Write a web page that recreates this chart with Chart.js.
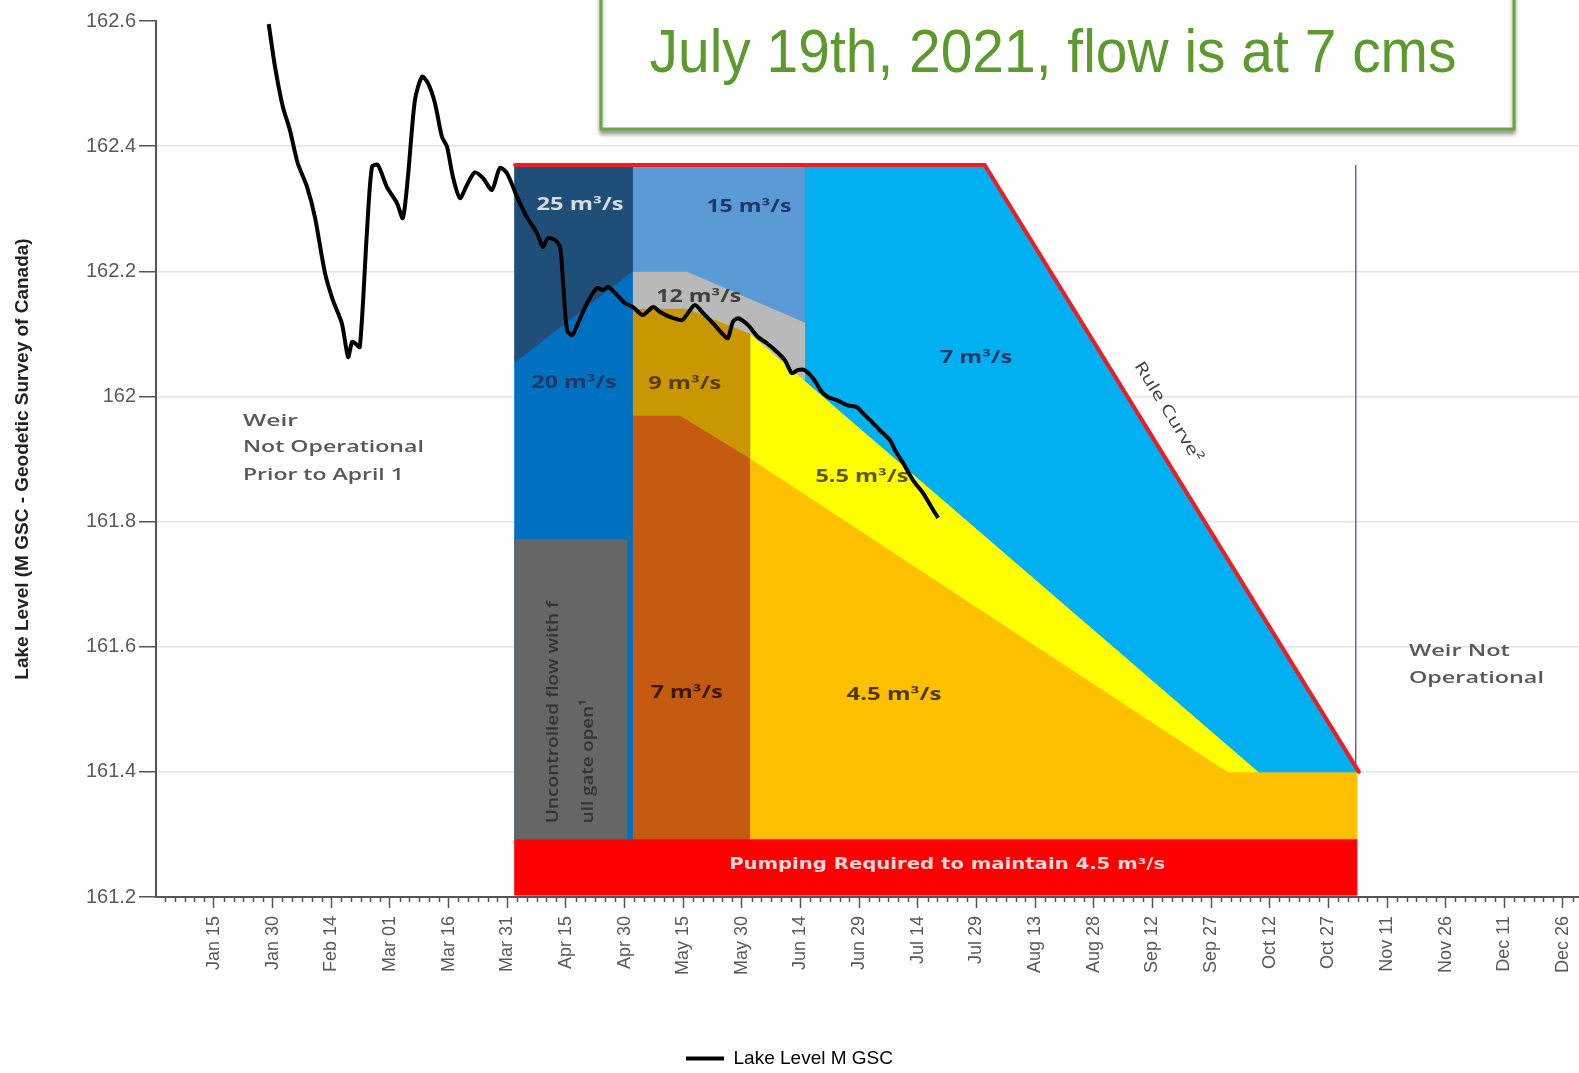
<!DOCTYPE html>
<html>
<head>
<meta charset="utf-8">
<script src="https://cdn.jsdelivr.net/npm/chart.js@4.4.1/dist/chart.umd.min.js"></script>
<style>
html,body{margin:0;padding:0;background:#fff;}
#wrap{width:1579px;height:1073px;position:relative;}
canvas{display:block;}
</style>
</head>
<body>
<div id="wrap"><canvas id="c" width="1579" height="1073"></canvas></div>
<script>
// x values are day numbers of 2021 (Jan 1 = 0)
const xTickDays = [14,29,44,59,74,89,104,119,134,149,164,179,194,209,224,239,254,269,284,299,314,329,344,359];
const xTickLabels = ['Jan 15','Jan 30','Feb 14','Mar 01','Mar 16','Mar 31','Apr 15','Apr 30','May 15','May 30','Jun 14','Jun 29','Jul 14','Jul 29','Aug 13','Aug 28','Sep 12','Sep 27','Oct 12','Oct 27','Nov 11','Nov 26','Dec 11','Dec 26'];
const yTickValues = [161.2,161.4,161.6,161.8,162,162.2,162.4,162.6];
const yTickLabels = ['161.2','161.4','161.6','161.8','162','162.2','162.4','162.6'];

// Lake level series (M GSC)
const lakeDays = [28,29.6,31.6,33.4,35.4,37.8,39.8,42.4,44.4,46.7,48.3,49.3,50.1,51.3,53.1,54.4,55.9,58.2,60.8,62.3,63.6,65.4,67.2,68.7,70.5,72.3,73.6,75.1,76.9,78.7,80.7,82.8,85.1,87.1,88.9,91.5,94.0,96.6,98.1,99.4,101.2,102.5,103.3,104.3,105.6,107.1,109.4,111.9,113.5,114.8,117.1,119.1,121.1,123.7,126.3,128.1,130.6,133.7,135.2,137.0,139.1,141.6,143.9,145.4,146.7,148.0,150.6,153.1,155.4,158.0,160.0,161.8,163.3,165.1,167.2,169.5,171.0,173.3,175.9,178.4,179.7,181.8,184.3,186.9,188.2,190.2,192.8,195.3,197.9,199.2];
const lakeLevels = [162.595,162.527,162.463,162.426,162.373,162.335,162.287,162.197,162.154,162.117,162.063,162.087,162.085,162.079,162.261,162.367,162.370,162.335,162.309,162.285,162.351,162.474,162.511,162.501,162.469,162.415,162.399,162.351,162.317,162.338,162.358,162.349,162.330,162.365,162.357,162.319,162.287,162.261,162.239,162.253,162.250,162.239,162.181,162.106,162.098,162.117,162.149,162.173,162.170,162.175,162.162,162.149,162.143,162.130,162.143,162.135,162.127,162.122,162.133,162.146,162.133,162.117,162.101,162.093,162.119,162.125,162.114,162.095,162.085,162.071,162.058,162.037,162.042,162.042,162.029,162.007,161.999,161.994,161.986,161.983,161.975,161.962,161.946,161.930,161.914,161.894,161.866,161.846,161.819,161.806];

// Operating zones (polygon outlines: day, level)
const pumpDays = [91,306.3,306.3,91,91];
const pumpLevels = [161.203,161.203,161.293,161.293,161.203];
const uncontrolledDays = [91,119.6,119.6,91,91];
const uncontrolledLevels = [161.293,161.293,161.771,161.771,161.293];
const flow20Days = [91,121,121,91,91];
const flow20Levels = [161.293,161.293,162.2,162.055,161.293];
const flow25Days = [91,121,121,91,91];
const flow25Levels = [162.055,162.2,162.37,162.37,162.055];
const flow15Days = [121,135,165,165,121,121];
const flow15Levels = [162.2,162.2,162.119,162.37,162.37,162.2];
const flow12Days = [121,135,165,165,151,135,121,121];
const flow12Levels = [162.2,162.2,162.119,162.026,162.101,162.141,162.141,162.2];
const flow9Days = [121,135,151,151,133.2,121,121];
const flow9Levels = [162.141,162.141,162.101,161.902,161.97,161.97,162.141];
const flow7oDays = [121,151,151,133.2,121,121];
const flow7oLevels = [161.293,161.293,161.902,161.97,161.97,161.293];
const flow45Days = [151,306.3,306.3,273.3,151,151];
const flow45Levels = [161.293,161.293,161.4,161.4,161.902,161.293];
const flow55Days = [151,273.3,281.2,151,151];
const flow55Levels = [161.902,161.4,161.4,162.101,161.902];
const flow7bDays = [165,211.1,306.8,281.2,165,165];
const flow7bLevels = [162.37,162.37,161.4,161.4,162.026,162.37];
const ruleCurveDays = [91,211.1,306.8];
const ruleCurveLevels = [162.37,162.37,161.4];
const weirEndDays = [306,306];
const weirEndLevels = [162.37,161.4];

function pts(days, levels){ return days.map((d,i)=>({x:d,y:levels[i]})); }

const zones = [
  {name:'pumping', days:pumpDays, levels:pumpLevels, color:'#ff0000', order:15},
  {name:'4.5', days:flow45Days, levels:flow45Levels, color:'#ffc000', order:14},
  {name:'5.5', days:flow55Days, levels:flow55Levels, color:'#ffff00', order:13},
  {name:'7b', days:flow7bDays, levels:flow7bLevels, color:'#00b0f0', order:12},
  {name:'7o', days:flow7oDays, levels:flow7oLevels, color:'#c55a11', order:11},
  {name:'9', days:flow9Days, levels:flow9Levels, color:'#c99800', order:10},
  {name:'12', days:flow12Days, levels:flow12Levels, color:'#b9b9b9', order:9},
  {name:'15', days:flow15Days, levels:flow15Levels, color:'#5b9bd5', order:8},
  {name:'20', days:flow20Days, levels:flow20Levels, color:'#0070c0', order:7},
  {name:'25', days:flow25Days, levels:flow25Levels, color:'#1f4e79', order:6},
  {name:'uncontrolled', days:uncontrolledDays, levels:uncontrolledLevels, color:'#666666', order:5}
];

const datasets = [
  {label:'Lake Level M GSC', data:pts(lakeDays, lakeLevels), borderColor:'#000', backgroundColor:'#000', borderWidth:4, tension:0.25, pointRadius:0, fill:false, order:0},
  {label:'Rule Curve', data:pts(ruleCurveDays, ruleCurveLevels), borderColor:'#ee1c24', borderWidth:4, pointRadius:0, fill:false, tension:0, order:1, borderCapStyle:'round', borderJoinStyle:'miter'},
  ...zones.map(z=>({label:z.name, data:pts(z.days, z.levels), borderColor:z.color, backgroundColor:z.color, borderWidth:1, fill:'shape', pointRadius:0, tension:0, order:z.order})),
  {label:'Weir end', data:pts(weirEndDays, weirEndLevels), borderColor:'#5a6a9c', borderWidth:1.5, pointRadius:0, fill:false, tension:0, order:30}
];

// Text annotations (anchored to data coordinates)
const zoneFont = "bold 17px 'Open Sans'";
const zoneTexts = [
  {text:'25 m\u00b3/s', day:107.6, level:162.306, color:'#dcdcdc', w:87},
  {text:'15 m\u00b3/s', day:150.8, level:162.302, color:'#1f3864', w:85},
  {text:'12 m\u00b3/s', day:138.0, level:162.159, color:'#404040', w:85},
  {text:'20 m\u00b3/s', day:106.1, level:162.022, color:'#1f3864', w:85},
  {text:'9 m\u00b3/s', day:134.4, level:162.020, color:'#5a3c00', w:73},
  {text:'7 m\u00b3/s', day:208.9, level:162.061, color:'#1f3864', w:72},
  {text:'5.5 m\u00b3/s', day:179.7, level:161.871, color:'#5c5800', w:93},
  {text:'7 m\u00b3/s', day:134.9, level:161.526, color:'#3a1800', w:72},
  {text:'4.5 m\u00b3/s', day:187.9, level:161.523, color:'#4d3800', w:95}
];
const weirFont = "600 17px 'Open Sans'";
const plainTexts = [
  {text:'Pumping Required to maintain 4.5 m\u00b3/s', day:201.5, level:161.251, color:'#ffd9d9', w:436, font:"bold 16px 'DejaVu Sans'", align:'center'},
  {text:'Weir', day:21.4, level:161.961, color:'#595959', w:55, font:weirFont, align:'left'},
  {text:'Not Operational', day:21.4, level:161.919, color:'#595959', w:181, font:weirFont, align:'left'},
  {text:'Prior to April 1', day:21.4, level:161.874, color:'#595959', w:161, font:weirFont, align:'left'},
  {text:'Weir Not', day:319.6, level:161.593, color:'#595959', w:101, font:weirFont, align:'left'},
  {text:'Operational', day:319.6, level:161.550, color:'#595959', w:135, font:weirFont, align:'left'}
];
const verticalTexts = [
  {text:'Uncontrolled flow with f', day:100.7, level:161.318, color:'#333333', w:222},
  {text:'ull gate open\u00b9', day:109.6, level:161.318, color:'#333333', w:124}
];
const ruleText = {text:'Rule Curve\u00b2', day:258.0, level:161.975, color:'#404040', w:115};

function drawText(ctx, text, x, y, o){
  ctx.save();
  ctx.translate(x, y);
  if (o.rotate) ctx.rotate(o.rotate);
  ctx.font = o.font;
  ctx.fillStyle = o.color;
  ctx.textAlign = o.align || 'center';
  ctx.textBaseline = 'middle';
  if (o.w) { const m = ctx.measureText(text).width; ctx.scale(o.w / m, 1); }
  ctx.fillText(text, 0, 0);
  ctx.restore();
}

const annotationPlugin = {
  id:'zoneText',
  beforeDatasetDraw(chart, args){
    if (args.index !== 0) return;
    const {ctx, scales:{x, y}} = chart;
    zoneTexts.forEach(t => drawText(ctx, t.text, x.getPixelForValue(t.day), y.getPixelForValue(t.level), {font:zoneFont, color:t.color, w:t.w}));
    plainTexts.forEach(t => drawText(ctx, t.text, x.getPixelForValue(t.day), y.getPixelForValue(t.level), t));
    verticalTexts.forEach(t => drawText(ctx, t.text, x.getPixelForValue(t.day), y.getPixelForValue(t.level), {font:"600 17px 'Open Sans'", color:t.color, w:t.w, align:'left', rotate:-Math.PI/2}));
    const x1 = x.getPixelForValue(ruleCurveDays[1]), y1 = y.getPixelForValue(ruleCurveLevels[1]);
    const x2 = x.getPixelForValue(ruleCurveDays[2]), y2 = y.getPixelForValue(ruleCurveLevels[2]);
    const ang = Math.atan2(y2 - y1, x2 - x1);
    drawText(ctx, ruleText.text, x.getPixelForValue(ruleText.day), y.getPixelForValue(ruleText.level), {font:"16px 'Open Sans'", color:ruleText.color, w:ruleText.w, rotate:ang});
  },
  afterDraw(chart){
    const {ctx, scales:{x}, chartArea} = chart;
    // minor ticks on x axis
    ctx.save();
    ctx.strokeStyle = '#555';
    ctx.lineWidth = 1.5;
    for (let d = 1.5; d < x.max; d += 2.5) {
      if (xTickDays.includes(d)) continue;
      const px = Math.round(x.getPixelForValue(d)) + 0.5;
      ctx.beginPath();
      ctx.moveTo(px, chartArea.bottom);
      ctx.lineTo(px, chartArea.bottom + 5);
      ctx.stroke();
    }
    ctx.restore();
    // headline box
    ctx.save();
    ctx.shadowColor = 'rgba(0,0,0,0.35)';
    ctx.shadowOffsetY = 4;
    ctx.shadowBlur = 4;
    ctx.fillStyle = '#ffffff';
    ctx.fillRect(601, -10, 913, 139);
    ctx.strokeStyle = '#6aa73c';
    ctx.lineWidth = 3;
    ctx.strokeRect(601, -10, 913, 139);
    ctx.restore();
    ctx.save();
    ctx.font = "62px 'Liberation Sans'";
    ctx.fillStyle = '#5c9a2d';
    ctx.textAlign = 'center';
    ctx.textBaseline = 'alphabetic';
    const title = 'July 19th, 2021, flow is at 7 cms';
    const m = ctx.measureText(title).width;
    ctx.translate(1053, 72);
    ctx.scale(807 / m, 1);
    ctx.fillText(title, 0, 0);
    ctx.restore();
  }
};

Chart.defaults.font.family = "'Liberation Sans', Arial, sans-serif";

const LEGEND_H = 34;

new Chart(document.getElementById('c'), {
  type:'line',
  data:{datasets},
  options:{
    responsive:false,
    animation:false,
    devicePixelRatio:1,
    events:[],
    layout:{padding:{top:21, left:0, right:0, bottom:0}},
    scales:{
      x:{
        type:'linear',
        min:-0.83,
        max:363.1,
        afterBuildTicks: s => { s.ticks = xTickDays.map(v => ({value:v})); },
        afterFit: s => {
          s.paddingLeft = 0; s.paddingRight = 0;
          const lh = s.chart.legend ? s.chart.legend.height : LEGEND_H;
          s.height = s.chart.height - 897 - lh;
        },
        ticks:{
          autoSkip:false, minRotation:90, maxRotation:90, padding:8,
          color:'#595959', font:{size:18},
          callback:(v, i) => xTickLabels[i]
        },
        grid:{drawOnChartArea:false, drawTicks:true, tickLength:11, tickColor:'#555', tickWidth:1.5},
        border:{display:true, color:'#555', width:2}
      },
      y:{
        type:'linear',
        min:161.2,
        max:162.6,
        afterBuildTicks: s => { s.ticks = yTickValues.map(v => ({value:v})); },
        afterFit: s => { s.width = 156; },
        ticks:{
          color:'#595959', font:{size:20}, padding:3,
          callback:(v, i) => yTickLabels[i]
        },
        grid:{
          color: c => (c.tick && Math.abs(c.tick.value - 162.6) < 1e-6) ? 'rgba(0,0,0,0)' : '#e4e4e4',
          lineWidth:1.5, tickLength:17, tickColor:'#555', tickWidth:1.5
        },
        border:{display:true, color:'#555', width:2},
        title:{display:true, text:'Lake Level (M GSC - Geodetic Survey of Canada)', color:'#222', font:{size:19, weight:'bold'}, padding:{top:11, bottom:0}}
      }
    },
    plugins:{
      legend:{
        display:true,
        position:'bottom',
        maxHeight:LEGEND_H,
        labels:{
          boxWidth:38, boxHeight:4, padding:10,
          color:'#444', font:{size:19},
          generateLabels: () => [{text:'Lake Level M GSC', fillStyle:'#000', strokeStyle:'#000', lineWidth:0, hidden:false, datasetIndex:0}]
        }
      },
      tooltip:{enabled:false}
    }
  },
  plugins:[annotationPlugin]
});
</script>
</body>
</html>
